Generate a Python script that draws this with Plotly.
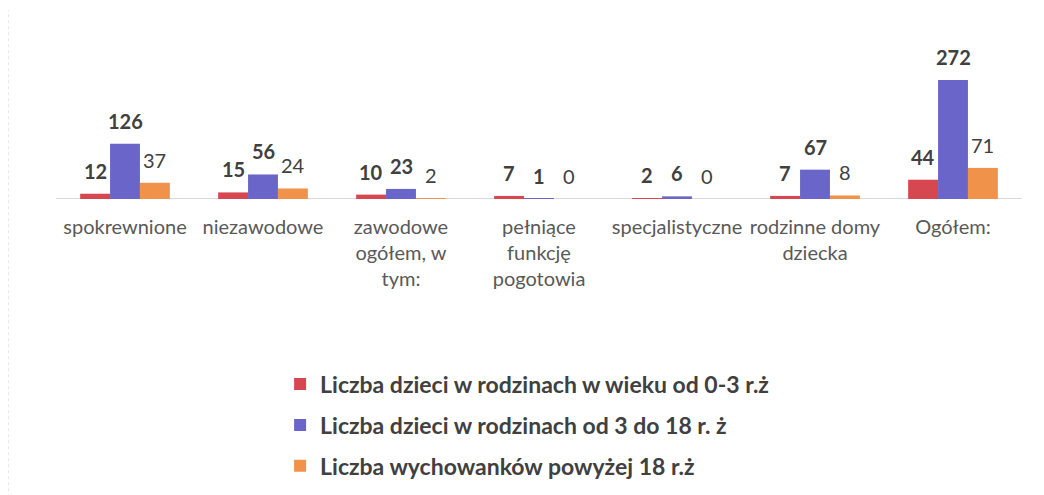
import plotly.graph_objects as go

categories = ["spokrewnione", "niezawodowe", "zawodowe<br>ogółem, w<br>tym:",
              "pełniące<br>funkcję<br>pogotowia", "specjalistyczne",
              "rodzinne domy<br>dziecka", "Ogółem:"]

age_0_3 = [12, 15, 10, 7, 2, 7, 44]
age_3_18 = [126, 56, 23, 1, 6, 67, 272]
over_18 = [37, 24, 2, 0, 0, 8, 71]

series_names = ["Liczba dzieci w rodzinach w wieku od 0-3 r.ż",
                "Liczba dzieci w rodzinach od 3 do 18 r. ż",
                "Liczba wychowanków powyżej 18 r.ż"]
colors = ["#d6474f", "#6a66c9", "#f0924a"]

W, H = 1044, 495
ML, MR, MT, MB = 48, 30, 4, 20
BARGAP = 0.35
plot_w = W - ML - MR
bar_px = plot_w / len(categories) * (1 - BARGAP) / 3

fig = go.Figure()

for i, (vals, name, col) in enumerate(zip([age_0_3, age_3_18, over_18], series_names, colors)):
    fig.add_trace(go.Bar(
        x=categories,
        y=vals,
        name=name,
        legendgroup=str(i),
        marker=dict(color=col, line=dict(width=0)),
    ))
    # value labels sit a little above the bar end
    for cat, v in zip(categories, vals):
        fig.add_annotation(
            x=cat, y=v, text=f"<b>{v}</b>" if i < 2 else str(v),
            xshift=(i - 1) * bar_px, yshift=9, yanchor="bottom",
            showarrow=False,
            font=dict(family="Lato", size=20, color="#404040"),
        )

fig.update_layout(
    width=W,
    height=H,
    paper_bgcolor="white",
    plot_bgcolor="white",
    margin=dict(l=ML, r=MR, t=MT, b=MB),
    barmode="group",
    bargap=BARGAP,
    bargroupgap=0,
    font=dict(family="Lato", size=20, color="#595959"),
    xaxis=dict(
        showgrid=False,
        showline=False,
        ticks="",
        ticklabelstandoff=14,
        tickfont=dict(family="Lato", size=20, color="#595959"),
    ),
    yaxis=dict(
        domain=[0.603, 1],
        range=[0, 427],
        showgrid=False,
        showticklabels=False,
        zeroline=True,
        zerolinecolor="#d9d9d9",
        zerolinewidth=1,
        showline=False,
    ),
    legend=dict(
        x=0.232,
        y=0.123,
        xanchor="left",
        yanchor="middle",
        orientation="v",
        tracegroupgap=8,
        font=dict(family="Lato", size=23, color="#404040", weight="bold"),
    ),
    showlegend=True,
)

# faint chart frame on the left
fig.add_shape(type="line", xref="paper", yref="paper",
              x0=-0.0497, x1=-0.0497, y0=-0.043, y1=1.004,
              line=dict(color="#d0d0d0", width=1, dash="dot"))

fig.write_html("out.html")
